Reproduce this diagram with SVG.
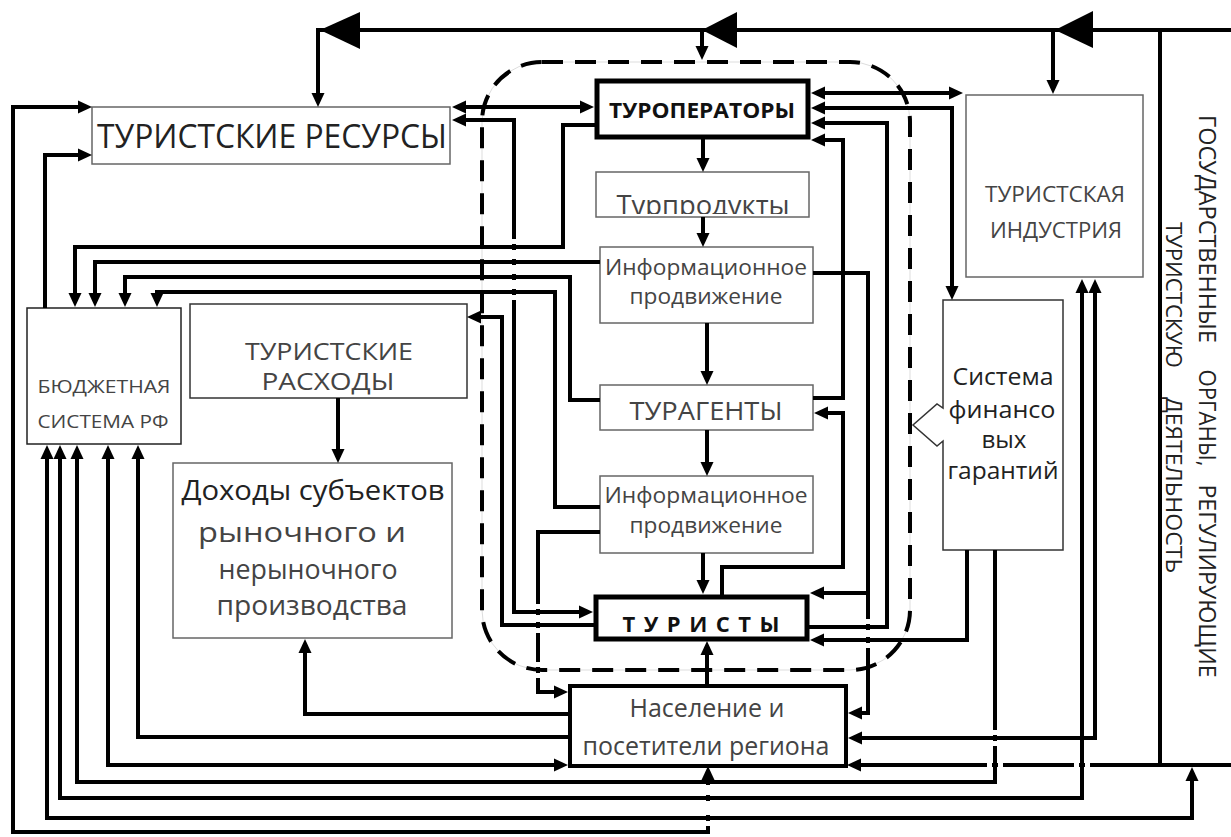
<svg xmlns="http://www.w3.org/2000/svg" width="1231" height="837" viewBox="0 0 1231 837">
<defs>
<style>
.b{fill:#fff;stroke:#666;stroke-width:1.5}
.bk{fill:#fff;stroke:#000;stroke-width:5}
.c path,.c line{fill:none;stroke:#000;stroke-width:4}
.ar{marker-end:url(#a)}
.ar2{marker-start:url(#a);marker-end:url(#a)}
text{font-family:"Open Sans","Liberation Sans",sans-serif;fill:#222;text-anchor:middle}
.g{fill:#444}
</style>
<marker id="a" viewBox="0 0 14 14" refX="9" refY="7" markerWidth="14" markerHeight="14" markerUnits="userSpaceOnUse" orient="auto-start-reverse"><path d="M0,0.5 L14,7 L0,13.5 z" fill="#000"/></marker>
<clipPath id="cp"><rect x="596" y="172" width="213" height="42"/></clipPath>
</defs>
<rect width="1231" height="837" fill="#fff"/>

<g id="frame">
<rect x="482" y="62" width="428" height="608" rx="60" fill="none" stroke="#ddd" stroke-width="1"/>
<rect x="482" y="62" width="428" height="608" rx="60" fill="none" stroke="#000" stroke-width="4" stroke-dasharray="21 12"/>
</g>

<g id="n-resursy"><rect class="b" x="92" y="107" width="358" height="57"/><text x="272" y="148" font-size="32" textLength="350" lengthAdjust="spacingAndGlyphs">ТУРИСТСКИЕ РЕСУРСЫ</text></g>
<g id="n-turoperatory"><rect class="bk" x="597" y="81" width="211" height="56"/><text x="702" y="118" font-size="21" font-weight="bold" textLength="186" lengthAdjust="spacingAndGlyphs" style="fill:#111">ТУРОПЕРАТОРЫ</text></g>
<g id="n-turprodukty"><rect class="b" x="596" y="172" width="213" height="45"/><text class="g" x="703" y="215" font-size="28" textLength="173" lengthAdjust="spacingAndGlyphs" clip-path="url(#cp)">Турпродукты</text></g>
<g id="n-info1"><rect class="b" x="600" y="247" width="213" height="76"/><text class="g" x="706" y="275" font-size="22" textLength="202" lengthAdjust="spacingAndGlyphs">Информационное</text><text class="g" x="706" y="304" font-size="22" textLength="153" lengthAdjust="spacingAndGlyphs">продвижение</text></g>
<g id="n-turagenty"><rect class="b" x="600" y="385" width="213" height="45"/><text class="g" x="706" y="420" font-size="25" textLength="153" lengthAdjust="spacingAndGlyphs">ТУРАГЕНТЫ</text></g>
<g id="n-info2"><rect class="b" x="600" y="476" width="213" height="77"/><text class="g" x="706" y="503" font-size="22" textLength="203" lengthAdjust="spacingAndGlyphs">Информационное</text><text class="g" x="706" y="533" font-size="22" textLength="153" lengthAdjust="spacingAndGlyphs">продвижение</text></g>
<g id="n-turisty"><rect class="bk" x="596" y="597" width="211" height="42"/><text x="701" y="632" font-size="22" font-weight="bold" textLength="157" lengthAdjust="spacing" style="fill:#111">ТУРИСТЫ</text></g>
<g id="n-naselenie"><rect class="bk" x="570" y="686" width="276" height="80" style="stroke-width:4"/><text class="g" x="707" y="717" font-size="25" textLength="155" lengthAdjust="spacingAndGlyphs">Население и</text><text class="g" x="706" y="755" font-size="25" textLength="247" lengthAdjust="spacingAndGlyphs">посетители региона</text></g>
<g id="n-rashody"><rect class="b" x="190" y="304" width="277" height="94" style="stroke:#333"/><text class="g" x="329" y="360" font-size="24" textLength="168" lengthAdjust="spacingAndGlyphs">ТУРИСТСКИЕ</text><text class="g" x="328" y="390" font-size="24" textLength="133" lengthAdjust="spacingAndGlyphs">РАСХОДЫ</text></g>
<g id="n-dohody"><rect class="b" x="173" y="463" width="279" height="175"/><text x="313" y="500" font-size="28" textLength="263" lengthAdjust="spacingAndGlyphs">Доходы субъектов</text><text class="g" x="302" y="542" font-size="28" textLength="208" lengthAdjust="spacingAndGlyphs">рыночного и</text><text class="g" x="308" y="579" font-size="28" textLength="179" lengthAdjust="spacingAndGlyphs">нерыночного</text><text class="g" x="312" y="615" font-size="28" textLength="191" lengthAdjust="spacingAndGlyphs">производства</text></g>
<g id="n-budget"><rect class="b" x="27" y="308" width="154" height="136" style="stroke:#222"/><text class="g" x="104" y="393" font-size="18" textLength="133" lengthAdjust="spacingAndGlyphs">БЮДЖЕТНАЯ</text><text class="g" x="103" y="428" font-size="18" textLength="131" lengthAdjust="spacingAndGlyphs">СИСТЕМА РФ</text></g>
<g id="n-industriya"><rect class="b" x="966" y="95" width="177" height="182"/><text class="g" x="1055" y="202" font-size="22" textLength="140" lengthAdjust="spacingAndGlyphs">ТУРИСТСКАЯ</text><text class="g" x="1056" y="238" font-size="22" textLength="132" lengthAdjust="spacingAndGlyphs">ИНДУСТРИЯ</text></g>
<g id="n-garantii"><path d="M943,300 H1063 V550 H943 V441 L937,446 L913,425 L937,404 L943,408 Z" fill="#fff" stroke="#333" stroke-width="1.5"/><text x="1003" y="385" font-size="24" textLength="101" lengthAdjust="spacingAndGlyphs">Система</text><text x="1002" y="418" font-size="24" textLength="107" lengthAdjust="spacingAndGlyphs">финансо</text><text x="1004" y="448" font-size="24" textLength="45" lengthAdjust="spacingAndGlyphs">вых</text><text x="1003" y="479" font-size="24" textLength="111" lengthAdjust="spacingAndGlyphs">гарантий</text></g>
<g id="n-gov">
<text transform="translate(1199,229) rotate(90)" font-size="23" textLength="228" lengthAdjust="spacingAndGlyphs">ГОСУДАРСТВЕННЫЕ</text>
<text transform="translate(1199,418) rotate(90)" font-size="23" textLength="97" lengthAdjust="spacingAndGlyphs">ОРГАНЫ,</text>
<text transform="translate(1199,581) rotate(90)" font-size="23" textLength="193" lengthAdjust="spacingAndGlyphs">РЕГУЛИРУЮЩИЕ</text>
<text transform="translate(1166,295) rotate(90)" font-size="22" textLength="146" lengthAdjust="spacingAndGlyphs">ТУРИСТСКУЮ</text>
<text transform="translate(1166,485) rotate(90)" font-size="22" textLength="176" lengthAdjust="spacingAndGlyphs">ДЕЯТЕЛЬНОСТЬ</text>
</g>

<g id="connectors" class="c">
<path d="M1231,30 H318 V102" class="ar"/>
<path d="M702,30 V55" class="ar"/>
<path d="M1053,30 V89" class="ar"/>
<path d="M1160,30 V765 H1231"/>
<path d="M1160,765 H852" class="ar"/>
<path d="M816,93 H958" class="ar2"/>
<path d="M816,108 H952 V295" class="ar2"/>
<path d="M808,627 H887 V123 H816" class="ar"/>
<path d="M813,398 H843 V140 H816" class="ar"/>
<path d="M722,597 V567 H843 V413 H819" class="ar"/>
<path d="M813,273 H868 V713 H853" class="ar"/>
<path d="M868,593 H815" class="ar"/>
<path d="M967,550 V640 H815" class="ar"/>
<path d="M995,550 V782 H77 V450" class="ar"/>
<path d="M1082,284 V798 H60 V450" class="ar2"/>
<path d="M1095,284 V738 H853" class="ar2"/>
<path d="M1192,772 V818 H47 V450" class="ar2"/>
<path d="M597,125 H563 V247 H75 V302" class="ar"/>
<path d="M600,262 H95 V302" class="ar"/>
<path d="M600,400 H570 V277 H125 V302" class="ar"/>
<path d="M600,507 H555 V292 H157 V302" class="ar"/>
<path d="M45,308 V155 H87" class="ar"/>
<path d="M708,771 V832 H13 V107 H87" class="ar2"/>
<path d="M563,765 H108 V450" class="ar2"/>
<path d="M568,737 H138 V450" class="ar"/>
<path d="M568,714 H305 V644" class="ar"/>
<path d="M338,398 V458" class="ar"/>
<path d="M457,107 H589" class="ar2"/>
<path d="M457,120 H514 V612 H588" class="ar2"/>
<path d="M594,625 H502 V317 H472" class="ar"/>
<path d="M600,532 H538 V692 H563" class="ar"/>
<path d="M703,139 V167" class="ar"/>
<path d="M703,217 V242" class="ar"/>
<path d="M707,323 V380" class="ar"/>
<path d="M707,430 V471" class="ar"/>
<path d="M703,553 V589" class="ar"/>
<path d="M707,684 V646" class="ar"/>
<polygon points="320,30 360,12 360,49" fill="#000" stroke="none"/>
<polygon points="702,30 737,12 737,48" fill="#000" stroke="none"/>
<polygon points="1055,30 1093,11 1093,48" fill="#000" stroke="none"/>
</g>

<g id="gaps" fill="#fff">
<rect x="511" y="239" width="6" height="5"/><rect x="511" y="250" width="6" height="9"/><rect x="511" y="265" width="6" height="9"/><rect x="511" y="280" width="6" height="9"/><rect x="511" y="295" width="6" height="5"/>
<rect x="535" y="604" width="6" height="5"/><rect x="535" y="615" width="6" height="7"/><rect x="535" y="628" width="6" height="5"/><rect x="535" y="662" width="6" height="5"/><rect x="535" y="673" width="6" height="5"/>
<rect x="865" y="619" width="6" height="5"/><rect x="865" y="630" width="6" height="7"/><rect x="865" y="643" width="6" height="5"/>
<rect x="705" y="785" width="6" height="10"/><rect x="705" y="801" width="6" height="14"/><rect x="705" y="821" width="6" height="5"/>
<rect x="987" y="762" width="5" height="6"/><rect x="998" y="762" width="5" height="6"/><rect x="1074" y="762" width="5" height="6"/><rect x="1085" y="762" width="5" height="6"/>
<rect x="992" y="730" width="6" height="5"/><rect x="992" y="741" width="6" height="5"/>
</g>
</svg>
